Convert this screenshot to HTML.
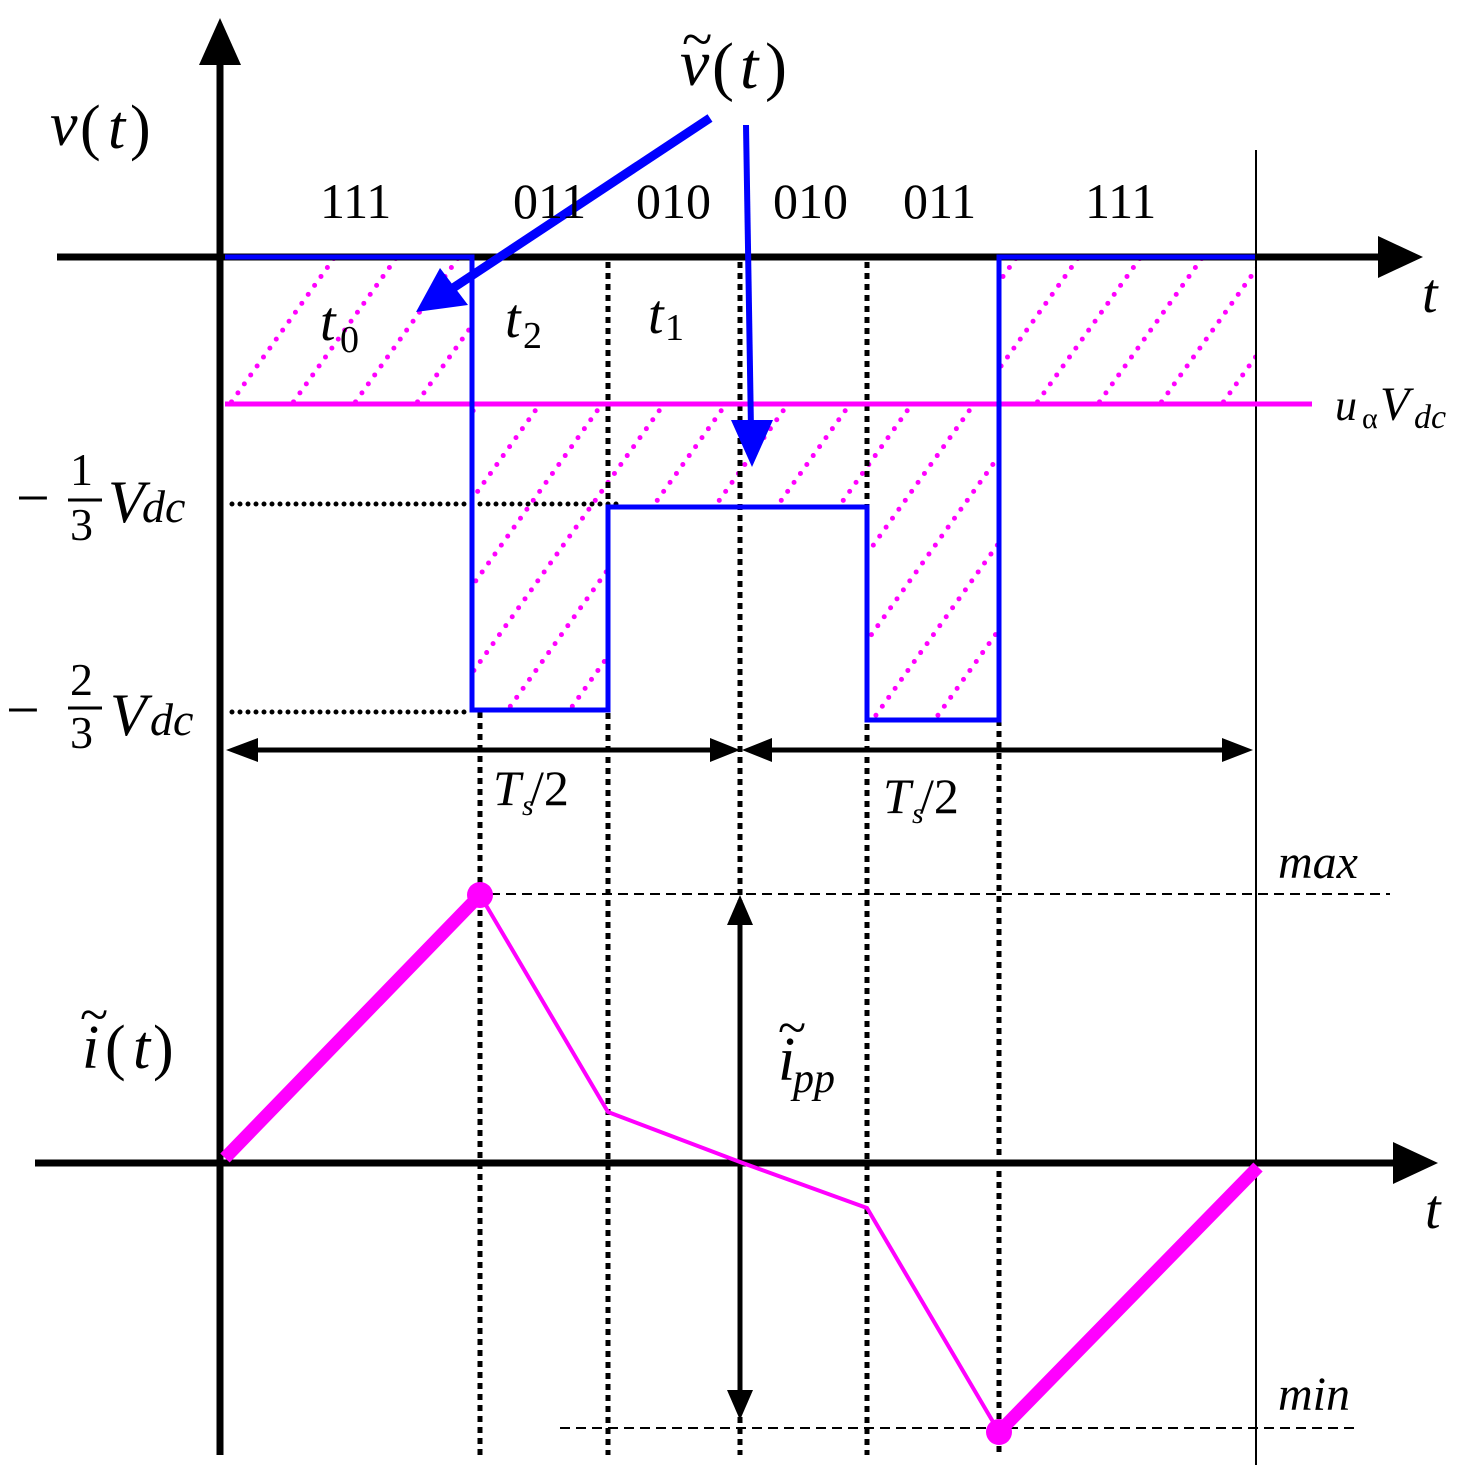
<!DOCTYPE html>
<html><head><meta charset="utf-8"><style>
html,body{margin:0;padding:0;background:#fff;}
svg{display:block;}
text{font-family:"Liberation Serif",serif;}
</style></head><body>
<svg width="1479" height="1479" viewBox="0 0 1479 1479" xmlns="http://www.w3.org/2000/svg">
<defs>
<clipPath id="hc">
<rect x="225" y="259" width="247" height="145"/>
<rect x="999" y="259" width="256" height="145"/>
<rect x="472" y="404" width="136" height="306"/>
<rect x="608" y="404" width="259" height="103"/>
<rect x="867" y="404" width="132" height="316"/>
</clipPath>
</defs>
<g clip-path="url(#hc)" stroke="#ff00ff" stroke-width="5" stroke-dasharray="0 11" stroke-linecap="round" fill="none">
<line x1="100" y1="760" x2="471" y2="240"/>
<line x1="162" y1="760" x2="533" y2="240"/>
<line x1="224" y1="760" x2="595" y2="240"/>
<line x1="286" y1="760" x2="657" y2="240"/>
<line x1="348" y1="760" x2="719" y2="240"/>
<line x1="410" y1="760" x2="781" y2="240"/>
<line x1="472" y1="760" x2="843" y2="240"/>
<line x1="534" y1="760" x2="905" y2="240"/>
<line x1="596" y1="760" x2="967" y2="240"/>
<line x1="658" y1="760" x2="1029" y2="240"/>
<line x1="720" y1="760" x2="1091" y2="240"/>
<line x1="782" y1="760" x2="1153" y2="240"/>
<line x1="844" y1="760" x2="1215" y2="240"/>
<line x1="906" y1="760" x2="1277" y2="240"/>
<line x1="968" y1="760" x2="1339" y2="240"/>
<line x1="1030" y1="760" x2="1401" y2="240"/>
<line x1="38" y1="760" x2="409" y2="240"/>
<line x1="-24" y1="760" x2="347" y2="240"/>
</g>
<g stroke="#000" stroke-width="7" fill="none">
<line x1="220" y1="60" x2="220" y2="1455"/>
<line x1="57" y1="257" x2="1385" y2="257"/>
<line x1="35" y1="1163" x2="1400" y2="1163"/>
</g>
<polygon points="220,18 199,65 241,65" fill="#000"/>
<polygon points="1423,257 1378,236 1378,278" fill="#000"/>
<polygon points="1438,1163 1393,1142 1393,1184" fill="#000"/>
<line x1="1256" y1="150" x2="1256" y2="1465" stroke="#000" stroke-width="2"/>
<g stroke="#000" stroke-width="5" stroke-dasharray="6 5" fill="none">
<line x1="608" y1="262" x2="608" y2="1455"/>
<line x1="740" y1="262" x2="740" y2="1455"/>
<line x1="867" y1="262" x2="867" y2="1455"/>
<line x1="999" y1="720" x2="999" y2="1455"/>
<line x1="480" y1="712" x2="480" y2="1455"/>
</g>
<g stroke="#000" stroke-width="5" stroke-dasharray="0 8" stroke-linecap="round" fill="none">
<line x1="232" y1="504" x2="622" y2="504"/>
<line x1="232" y1="712" x2="472" y2="712"/>
</g>
<line x1="225" y1="404" x2="1312" y2="404" stroke="#ff00ff" stroke-width="5"/>
<polyline points="225,257 472,257 472,710 608,710 608,507 867,507 867,720 999,720 999,257 1255,257" fill="none" stroke="#0000ff" stroke-width="5"/>
<g stroke="#000" stroke-width="5">
<line x1="245" y1="750" x2="722" y2="750"/>
<line x1="760" y1="750" x2="1235" y2="750"/>
<line x1="740" y1="915" x2="740" y2="1400"/>
</g>
<polygon points="226,750 258,738 258,762" fill="#000"/>
<polygon points="740,750 710,738 710,762" fill="#000"/>
<polygon points="742,750 772,738 772,762" fill="#000"/>
<polygon points="1253,750 1222,738 1222,762" fill="#000"/>
<polygon points="740,895 727,925 753,925" fill="#000"/>
<polygon points="740,1420 727,1390 753,1390" fill="#000"/>
<g stroke="#000" stroke-width="2" stroke-dasharray="10 6">
<line x1="490" y1="894" x2="1390" y2="894"/>
<line x1="560" y1="1428" x2="1360" y2="1428"/>
</g>
<polyline points="480,895 608,1112 740,1162 867,1208 999,1432" fill="none" stroke="#ff00ff" stroke-width="4"/>
<line x1="225" y1="1158" x2="480" y2="895" stroke="#ff00ff" stroke-width="13"/>
<line x1="999" y1="1432" x2="1258" y2="1167" stroke="#ff00ff" stroke-width="13"/>
<circle cx="480" cy="895" r="13" fill="#ff00ff"/>
<circle cx="999" cy="1432" r="13" fill="#ff00ff"/>
<line x1="710" y1="118" x2="450" y2="290" stroke="#0000ff" stroke-width="9"/>
<polygon points="416,312 440,268 468,305" fill="#0000ff"/>
<line x1="746" y1="125" x2="751" y2="430" stroke="#0000ff" stroke-width="6"/>
<polygon points="752,467 731,420 773,420" fill="#0000ff"/>
<g fill="#000" font-size="50">
<text x="320" y="218">111</text>
<text x="513" y="218">011</text>
<text x="636" y="218">010</text>
<text x="773" y="218">010</text>
<text x="903" y="218">011</text>
<text x="1085" y="218">111</text>
</g>
<g fill="#000" font-size="62" font-style="italic">
<text x="50" y="145">v</text>
<text x="1422" y="312" font-size="56">t</text>
<text x="1425" y="1228" font-size="56">t</text>
<text x="320" y="340" font-size="56">t</text>
<text x="505" y="337" font-size="56">t</text>
<text x="648" y="333" font-size="56">t</text>
<text x="1278" y="878" font-size="48">max</text>
<text x="1278" y="1410" font-size="48">min</text>
<text x="1335" y="420" font-size="44">u</text>
<text x="1380" y="420" font-size="48">V</text>
<text x="108" y="522" font-size="60">V</text>
<text x="110" y="735" font-size="60">V</text>
<text x="493" y="805" font-size="50">T</text>
<text x="883" y="813" font-size="50">T</text>
<text x="680" y="85" font-size="66">v</text>
<text x="82" y="1068">i</text>
<text x="778" y="1080">i</text>
</g>
<g fill="#000" font-size="62">
<text x="80" y="148">(</text><text x="108" y="148" font-style="italic">t</text><text x="130" y="148">)</text>
<text x="712" y="88" font-size="66">(</text><text x="740" y="88" font-size="66" font-style="italic">t</text><text x="765" y="88" font-size="66">)</text>
<text x="105" y="1068">(</text><text x="133" y="1068" font-style="italic">t</text><text x="153" y="1068">)</text>
<text x="340" y="352" font-size="38">0</text>
<text x="523" y="348" font-size="38">2</text>
<text x="665" y="340" font-size="38">1</text>
<text x="1362" y="428" font-size="30">α</text>
<text x="530" y="805" font-size="50">/2</text>
<text x="920" y="813" font-size="50">/2</text>
<text x="16" y="518" font-size="60">−</text>
<text x="6" y="730" font-size="60">−</text>
<text x="70" y="485" font-size="46">1</text>
<text x="70" y="540" font-size="46">3</text>
<text x="70" y="695" font-size="46">2</text>
<text x="70" y="748" font-size="46">3</text>
<text x="682" y="58" font-size="56">~</text>
<text x="80" y="1032" font-size="52">~</text>
<text x="778" y="1045" font-size="52">~</text>
</g>
<line x1="68" y1="500" x2="102" y2="500" stroke="#000" stroke-width="3"/>
<line x1="68" y1="708" x2="102" y2="708" stroke="#000" stroke-width="3"/>
<g fill="#000" font-style="italic">
<text x="142" y="522" font-size="46">dc</text>
<text x="150" y="735" font-size="46">dc</text>
<text x="1414" y="428" font-size="34">dc</text>
<text x="522" y="815" font-size="30">s</text>
<text x="912" y="823" font-size="30">s</text>
<text x="793" y="1092" font-size="42">pp</text>
</g>
</svg>
</body></html>
